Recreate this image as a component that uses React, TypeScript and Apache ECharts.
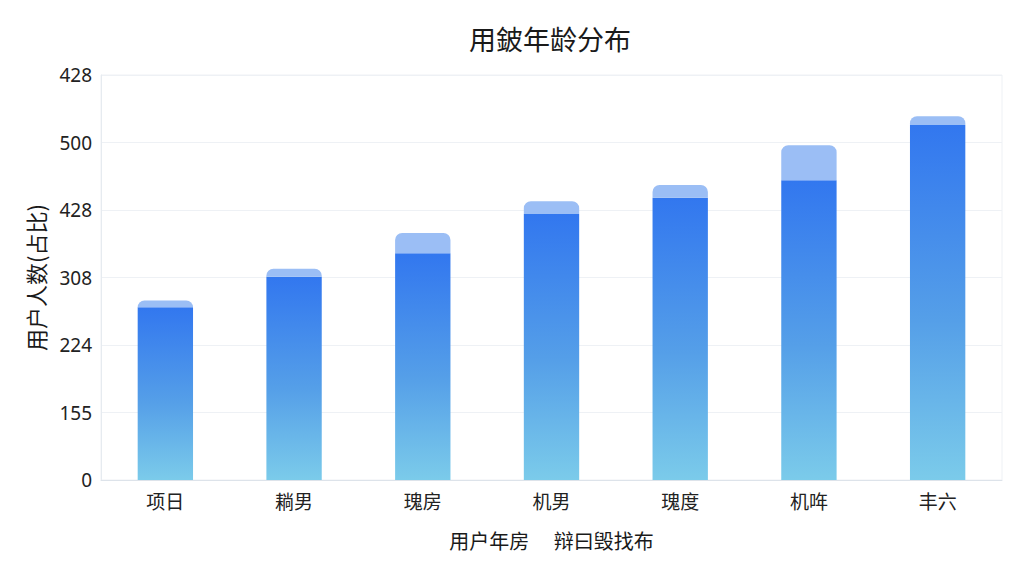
import React, { useEffect, useRef } from "react";
import * as echarts from "echarts";

const titleText = "用鈹年龄分布";
const yAxisName = "用户人数(占比)";
const xAxisName = "用户年房　 辩曰毁找布";
const categories = ["项日", "耥男", "瑰房", "机男", "瑰度", "机哖", "丰六"];
const mainValues = [256, 301, 336, 394, 418, 444, 526];
const capValues = [10, 12, 30, 19, 19, 52, 13];
const yTickLabels = ["0", "155", "224", "308", "428", "500", "428"];

export default function App() {
  const ref = useRef<HTMLDivElement>(null);
  useEffect(() => {
    if (!ref.current) return;
    const chart = echarts.init(ref.current, null, { renderer: "svg" });
    chart.setOption({
      animation: false,
      backgroundColor: "#ffffff",
      title: {
        text: titleText,
        left: 545,
        top: 20,
        textAlign: "center",
        textStyle: { fontSize: 27, fontWeight: "normal", color: "#1a1a1a", fontFamily: "Noto Sans CJK SC" },
      },
      grid: {
        left: 101,
        right: 22,
        top: 75,
        bottom: 96,
        show: true,
        borderColor: "#eef1f5",
        borderWidth: 1,
      },
      xAxis: {
        type: "category",
        data: categories,
        name: xAxisName,
        nameLocation: "middle",
        nameGap: 50,
        nameTextStyle: { fontSize: 20, color: "#1a1a1a", fontFamily: "Noto Sans CJK SC" },
        axisLine: { lineStyle: { color: "#dde3ea" } },
        axisTick: { alignWithLabel: true, length: 5, lineStyle: { color: "#c8d0d8" } },
        axisLabel: { fontSize: 19, color: "#222", margin: 11, fontFamily: "Noto Sans CJK SC" },
      },
      yAxis: {
        type: "value",
        min: 0,
        max: 600,
        interval: 100,
        name: yAxisName,
        nameLocation: "middle",
        nameGap: 55,
        nameRotate: 90,
        nameTextStyle: { fontSize: 22, color: "#1a1a1a", fontFamily: "Noto Sans CJK SC" },
        axisLine: { show: true, lineStyle: { color: "#e6ebf0" } },
        axisTick: { show: false },
        splitLine: { lineStyle: { color: "#eef1f5" } },
        axisLabel: {
          fontSize: 19,
          color: "#222",
          margin: 9,
          fontFamily: "Noto Sans",
          formatter: (v: number) => yTickLabels[Math.round(v / 100)] ?? "",
        },
      },
      series: [
        {
          type: "bar",
          stack: "s",
          data: mainValues,
          barWidth: "43%",
          itemStyle: {
            color: new echarts.graphic.LinearGradient(0, 0, 0, 1, [
              { offset: 0, color: "#3277ef" },
              { offset: 0.55, color: "#559fe8" },
              { offset: 1, color: "#7bcbea" },
            ]),
          },
        },
        {
          type: "bar",
          stack: "s",
          data: capValues,
          barWidth: "43%",
          itemStyle: { color: "#9bbef5", borderRadius: [7, 7, 0, 0] },
        },
      ],
    });
    return () => chart.dispose();
  }, []);
  return (
    <div
      ref={ref}
      style={{ position: "fixed", left: 0, top: 0, width: 1024, height: 576 }}
    />
  );
}
